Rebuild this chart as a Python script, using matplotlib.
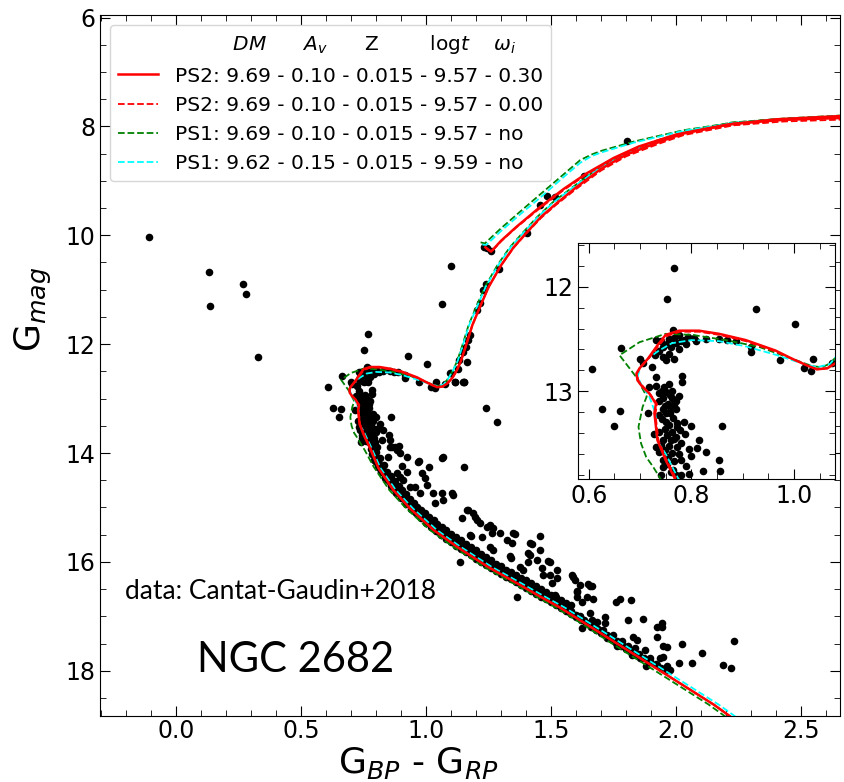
import numpy as np
import matplotlib.pyplot as plt
from matplotlib.lines import Line2D
from matplotlib.ticker import MultipleLocator

# ---------------- data: stars (G_BP - G_RP, G) ----------------
blue_stars = [(-0.11, 10.03), (0.131, 10.68), (0.137, 11.30), (0.268, 10.90),
              (0.279, 11.08), (0.329, 12.23)]

giants = [(1.099, 10.56), (1.064, 11.27), (1.232, 10.21), (1.243, 10.24), (1.26, 10.28),
          (1.293, 10.62), (1.239, 10.89), (1.229, 11.01), (1.216, 11.25), (1.203, 11.38),
          (1.177, 11.83), (1.169, 11.93), (1.16, 12.05), (1.147, 12.14), (1.133, 12.30),
          (1.164, 12.32), (1.127, 12.45), (1.149, 12.69), (1.099, 12.53), (1.116, 12.69),
          (1.152, 12.70), (1.403, 9.96), (1.456, 9.45), (1.485, 9.28), (1.516, 9.30),
          (1.803, 8.27), (1.633, 8.91), (1.239, 13.17), (1.285, 13.43)]

turnoff = [(0.767, 11.82), (0.752, 12.115), (0.927, 12.21), (1.003, 12.36), (0.764, 12.415),
           (0.662, 12.59), (0.606, 12.79), (0.626, 13.17), (0.660, 13.19), (0.650, 13.33),
           (0.859, 13.33), (0.782, 12.85), (0.782, 12.91), (0.715, 13.21), (0.700, 12.69),
           (0.705, 12.73), (1.038, 12.69), (1.020, 12.78), (1.034, 12.81), (1.075, 12.73),
           (0.973, 12.70), (0.916, 12.62), (0.916, 12.575), (0.887, 12.52), (0.870, 12.505),
           (0.854, 12.50), (0.793, 12.48), (0.776, 12.46), (0.767, 12.49), (0.757, 12.50),
           (0.786, 12.505), (0.737, 12.61), (0.730, 12.655), (0.744, 12.67), (0.757, 12.64),
           (0.767, 12.69), (0.750, 12.70), (0.770, 12.54), (0.718, 12.96), (0.732, 12.95),
           (0.747, 12.96), (0.750, 13.01), (0.758, 13.04), (0.745, 13.06), (0.763, 13.06),
           (0.737, 13.09), (0.754, 13.12), (0.767, 13.125), (0.771, 13.17), (0.744, 13.17),
           (0.758, 13.21), (0.737, 13.23), (0.765, 13.26), (0.750, 13.29), (0.786, 13.29),
           (0.799, 13.33), (0.773, 13.34), (0.737, 13.39), (0.763, 13.39), (0.744, 13.47),
           (0.770, 13.44), (0.788, 13.41), (0.815, 13.47), (0.757, 13.52), (0.773, 13.53),
           (0.812, 13.54), (0.737, 13.58), (0.754, 13.63), (0.767, 13.67), (0.828, 13.58),
           (0.822, 13.76), (0.853, 13.66), (0.856, 13.76), (0.744, 13.73), (0.760, 13.77),
           (0.771, 13.80), (0.784, 13.87), (0.802, 13.88), (0.862, 13.89), (0.875, 13.885),
           (0.890, 13.875), (0.731, 12.86), (0.724, 12.77), (0.737, 13.02), (0.728, 13.41),
           (0.732, 13.53), (0.760, 13.47), (0.750, 13.21), (0.776, 13.05), (0.757, 12.93),
           (0.731, 12.51), (0.828, 12.50), (1.096, 12.53), (1.152, 12.70), (1.116, 12.70),
           (0.742, 13.00), (0.762, 13.00), (0.770, 13.09), (0.748, 13.14), (0.760, 13.16),
           (0.742, 13.27), (0.756, 13.32), (0.772, 13.30), (0.748, 13.36), (0.778, 13.37),
           (0.752, 13.42), (0.766, 13.46), (0.740, 13.51), (0.780, 13.50), (0.748, 13.56),
           (0.762, 13.59), (0.776, 13.60), (0.745, 13.66), (0.780, 13.66), (0.752, 13.70),
           (0.790, 13.72), (0.764, 13.75), (0.780, 13.80), (0.796, 13.79), (0.740, 13.80),
           (0.800, 13.62), (0.795, 13.55), (0.740, 12.52), (0.752, 12.55), (0.760, 12.58),
           (0.745, 12.58), (0.775, 12.60), (0.780, 12.52), (0.790, 12.55), (0.805, 12.49),
           (0.810, 12.52)]

ms_band = [(0.778, 13.92), (0.790, 13.95), (0.785, 14.02), (0.798, 14.08), (0.792, 14.12),
           (0.805, 14.15), (0.812, 14.20), (0.808, 14.25), (0.822, 14.28), (0.818, 14.33),
           (0.830, 14.36), (0.838, 14.40), (0.835, 14.45), (0.848, 14.48), (0.852, 14.52),
           (0.858, 14.57), (0.866, 14.60), (0.870, 14.64), (0.880, 14.68), (0.888, 14.73),
           (0.895, 14.76), (0.902, 14.80), (0.912, 14.84), (0.918, 14.89), (0.928, 14.92),
           (0.935, 14.96), (0.945, 15.00), (0.952, 15.05), (0.962, 15.08), (0.970, 15.12),
           (0.982, 15.15), (0.990, 15.20), (1.002, 15.23), (1.012, 15.28), (1.025, 15.31),
           (1.035, 15.36), (1.048, 15.40), (1.058, 15.45), (1.070, 15.48), (1.082, 15.53),
           (1.095, 15.57), (1.105, 15.61), (1.118, 15.64), (1.130, 15.69), (1.142, 15.72),
           (1.155, 15.77), (1.168, 15.80), (1.180, 15.85), (1.192, 15.88), (1.205, 15.92),
           (1.218, 15.95), (1.230, 16.00), (1.245, 16.03), (1.258, 16.07), (1.272, 16.10),
           (1.285, 16.15), (1.300, 16.18), (1.315, 16.22), (1.330, 16.26), (1.345, 16.30),
           (1.360, 16.33), (1.375, 16.38), (1.392, 16.42), (1.408, 16.46), (1.425, 16.50),
           (1.440, 16.55), (1.458, 16.59), (1.475, 16.64), (1.492, 16.68), (1.510, 16.72),
           (1.528, 16.77), (1.545, 16.82), (1.562, 16.86), (1.580, 16.91), (1.598, 16.97),
           (1.615, 17.02), (1.632, 17.07), (1.650, 17.12), (1.668, 17.18), (1.688, 17.23),
           (1.705, 17.28), (1.725, 17.34), (1.745, 17.40), (1.765, 17.45), (1.785, 17.51),
           (1.805, 17.57), (1.828, 17.63), (1.850, 17.69), (1.872, 17.76), (1.895, 17.82),
           (1.918, 17.88), (1.940, 17.94), (1.962, 17.99),
           (0.800, 13.98), (0.815, 14.10), (0.830, 14.22), (0.845, 14.34), (0.860, 14.42),
           (0.875, 14.52), (0.890, 14.60), (0.905, 14.68), (0.920, 14.76), (0.935, 14.84),
           (0.950, 14.92), (0.965, 14.99), (0.980, 15.05), (0.995, 15.11), (1.010, 15.17),
           (1.030, 15.23), (1.045, 15.30), (1.065, 15.36), (1.080, 15.42), (1.100, 15.48),
           (1.120, 15.55), (1.140, 15.60), (1.160, 15.67), (1.180, 15.73), (1.200, 15.79),
           (1.220, 15.85), (1.240, 15.91), (1.260, 15.97), (1.280, 16.03), (1.300, 16.08),
           (1.320, 16.14), (1.340, 16.19), (1.360, 16.24), (1.380, 16.29), (1.400, 16.34),
           (1.420, 16.39), (1.440, 16.44), (1.460, 16.50), (1.480, 16.55), (1.500, 16.60),
           (1.520, 16.65), (1.540, 16.70), (1.560, 16.75), (1.580, 16.80),
           (0.800, 14.16), (0.820, 14.34), (0.840, 14.47), (0.860, 14.61), (0.880, 14.73),
           (0.900, 14.83), (0.920, 14.93), (0.940, 15.03), (0.960, 15.11), (0.980, 15.19),
           (1.000, 15.28), (1.020, 15.36), (1.040, 15.44), (1.060, 15.50), (1.080, 15.57),
           (1.100, 15.63), (1.120, 15.70), (1.140, 15.76), (1.160, 15.82), (1.180, 15.88),
           (1.200, 15.94), (1.220, 16.00), (1.240, 16.06), (1.260, 16.11), (1.280, 16.17),
           (1.300, 16.22), (1.320, 16.27), (1.340, 16.32), (1.360, 16.37), (1.380, 16.42),
           (1.400, 16.48), (1.420, 16.53), (1.440, 16.58), (1.460, 16.64), (1.480, 16.69),
           (1.500, 16.74), (1.520, 16.79), (1.540, 16.84), (1.560, 16.90), (1.580, 16.96),
           (1.600, 17.02), (1.620, 17.07), (1.640, 17.13), (1.660, 17.19), (1.680, 17.25),
           (1.700, 17.30), (1.720, 17.36), (1.740, 17.42), (1.760, 17.48), (1.780, 17.54),
           (1.800, 17.60), (1.820, 17.65), (1.840, 17.71), (1.860, 17.77)]

ms_scatter = [(0.923, 14.07), (0.969, 14.16), (1.067, 14.08), (1.152, 14.25), (0.856, 13.88),
              (0.883, 13.94), (0.896, 14.00), (0.849, 14.07), (0.836, 14.34), (0.883, 14.37),
              (0.923, 14.34), (0.983, 14.37), (0.996, 14.46), (1.003, 14.59), (0.956, 14.62),
              (0.909, 14.50), (0.936, 14.62), (0.976, 14.74), (1.029, 14.74), (1.063, 14.74),
              (1.103, 14.74), (1.036, 14.92), (1.069, 14.86), (1.107, 14.77), (1.163, 15.05),
              (1.189, 15.11), (1.196, 15.17), (1.143, 15.20), (1.216, 15.29), (1.243, 15.35),
              (1.263, 15.47), (1.296, 15.47), (1.349, 15.47), (1.223, 15.54), (1.176, 15.51),
              (1.323, 15.60), (1.416, 15.66), (1.456, 15.78), (1.409, 15.84), (1.336, 15.90),
              (1.376, 16.09), (1.443, 15.96), (1.489, 15.99), (1.523, 16.15), (1.589, 16.27),
              (1.616, 16.42), (1.643, 16.64), (1.496, 16.24), (1.167, 15.04), (1.203, 15.23),
              (1.256, 15.32), (1.269, 15.38), (1.343, 15.66), (1.356, 15.49), (1.456, 15.52),
              (1.180, 15.52), (1.256, 15.72), (1.269, 15.78), (1.423, 15.67), (1.416, 15.87),
              (1.340, 15.92), (1.216, 15.87), (1.387, 16.15), (1.409, 16.01), (1.463, 16.12),
              (1.496, 16.00), (1.469, 16.24), (1.523, 16.30), (1.503, 16.39), (1.583, 16.24),
              (1.596, 16.33), (1.656, 16.45), (1.603, 16.55), (1.603, 16.64), (1.516, 16.61),
              (1.365, 16.64), (1.136, 16.01), (1.649, 16.41), (1.663, 16.45), (1.605, 16.53),
              (1.625, 16.73), (1.669, 16.68), (1.760, 16.73), (1.776, 16.68), (1.819, 16.70),
              (1.065, 14.09), (0.973, 14.15), (1.012, 14.26), (0.903, 14.24), (0.896, 14.44),
              (1.536, 16.76), (1.563, 16.87), (1.596, 16.97), (1.616, 17.00), (1.629, 17.06),
              (1.623, 17.22), (1.656, 16.94), (1.663, 17.06), (1.683, 17.10), (1.709, 17.25),
              (1.716, 17.12), (1.717, 17.02), (1.669, 17.17), (1.689, 17.25), (1.723, 17.40),
              (1.749, 17.34), (1.763, 17.55), (1.783, 17.46), (1.809, 17.55), (1.823, 17.71),
              (1.836, 17.58), (1.829, 17.37), (1.843, 17.43), (1.856, 17.77), (1.876, 17.61),
              (1.880, 17.92), (1.896, 17.77), (1.923, 17.89), (1.936, 17.77), (1.949, 17.74),
              (1.963, 17.92), (1.976, 17.98), (1.923, 17.37), (1.943, 17.19), (1.923, 17.19),
              (1.943, 17.12), (1.809, 17.06), (1.869, 17.05), (1.949, 17.54), (1.963, 17.57),
              (2.023, 17.50), (2.013, 17.85), (2.063, 17.86), (2.103, 17.68), (2.189, 17.89),
              (2.219, 17.95), (2.232, 17.46)]

# ---------------- data: isochrones ----------------
ps2_rot_x = [2.25, 2.15, 2.05, 1.95, 1.85, 1.75, 1.65, 1.536, 1.45, 1.363, 1.247, 1.123, 1.029,
             0.936, 0.869, 0.81, 0.773, 0.750, 0.734, 0.728, 0.731, 0.718, 0.705, 0.695, 0.693,
             0.699, 0.715, 0.734, 0.750, 0.776, 0.815, 0.854, 0.906, 0.964, 0.997, 1.029, 1.045,
             1.065, 1.085, 1.105, 1.123, 1.14, 1.16, 1.185, 1.215, 1.25, 1.30, 1.35, 1.40, 1.46,
             1.52, 1.60, 1.70, 1.80, 1.93, 2.03, 2.23, 2.43, 2.70]
ps2_rot_y = [18.95, 18.62, 18.33, 18.04, 17.75, 17.46, 17.17, 16.84, 16.62, 16.39, 16.09, 15.72,
             15.41, 15.02, 14.68, 14.28, 13.885, 13.66, 13.47, 13.21, 13.12, 13.02, 12.96, 12.895,
             12.83, 12.78, 12.69, 12.56, 12.46, 12.42, 12.42, 12.45, 12.51, 12.61, 12.69, 12.76,
             12.79, 12.78, 12.72, 12.62, 12.48, 12.30, 12.02, 11.65, 11.32, 10.95, 10.55, 10.22,
             9.96, 9.66, 9.42, 9.12, 8.78, 8.52, 8.29, 8.13, 7.95, 7.88, 7.84]
ps2_rot_agb_x = [1.237, 1.26, 1.30, 1.36, 1.456, 1.55, 1.643, 1.75, 1.85, 2.0, 2.2, 2.4, 2.7]
ps2_rot_agb_y = [10.22, 10.30, 10.10, 9.85, 9.48, 9.15, 8.86, 8.58, 8.37, 8.15, 7.97, 7.87, 7.80]

ps2_norot_x = [2.25, 2.15, 2.05, 1.95, 1.85, 1.75, 1.65, 1.536, 1.45, 1.363, 1.247, 1.123, 1.029,
               0.936, 0.869, 0.81, 0.776, 0.752, 0.736, 0.730, 0.733, 0.720, 0.707, 0.697, 0.694,
               0.701, 0.718, 0.737, 0.753, 0.778, 0.815, 0.854, 0.906, 0.964, 0.997, 1.029, 1.045,
               1.065, 1.085, 1.105, 1.123, 1.14, 1.16, 1.185, 1.215, 1.25, 1.30, 1.35, 1.40, 1.46,
               1.52, 1.60, 1.70, 1.80, 1.93, 2.03, 2.23, 2.43, 2.70]
ps2_norot_y = [18.95, 18.62, 18.33, 18.04, 17.75, 17.46, 17.17, 16.84, 16.62, 16.39, 16.09, 15.72,
               15.41, 15.02, 14.68, 14.28, 13.89, 13.66, 13.47, 13.22, 13.12, 13.03, 12.96, 12.90,
               12.83, 12.77, 12.68, 12.56, 12.47, 12.43, 12.43, 12.46, 12.52, 12.62, 12.69, 12.76,
               12.79, 12.78, 12.72, 12.62, 12.48, 12.30, 12.02, 11.65, 11.32, 10.95, 10.55, 10.23,
               9.97, 9.68, 9.44, 9.15, 8.81, 8.55, 8.32, 8.16, 7.98, 7.91, 7.87]
ps2_norot_agb_x = [1.237, 1.26, 1.30, 1.36, 1.456, 1.55, 1.643, 1.75, 1.85, 2.0, 2.2, 2.4, 2.7]
ps2_norot_agb_y = [10.23, 10.31, 10.11, 9.86, 9.50, 9.17, 8.88, 8.60, 8.39, 8.17, 7.99, 7.89, 7.82]

ps1_a_x = [2.23, 2.13, 2.03, 1.93, 1.83, 1.73, 1.635, 1.52, 1.435, 1.348, 1.232, 1.108, 1.014,
           0.921, 0.853, 0.79, 0.755, 0.744, 0.725, 0.712, 0.702, 0.699, 0.697, 0.705, 0.713,
           0.692, 0.66, 0.699, 0.75, 0.802, 0.867, 0.932, 0.997, 1.036, 1.055, 1.072, 1.09, 1.108,
           1.125, 1.145, 1.170, 1.200, 1.235, 1.285, 1.335, 1.385, 1.445, 1.505, 1.585, 1.685,
           1.785, 1.915, 2.02, 2.22, 2.42, 2.70]
ps1_a_y = [18.95, 18.62, 18.33, 18.04, 17.75, 17.46, 17.17, 16.84, 16.62, 16.39, 16.09, 15.72,
           15.41, 15.02, 14.68, 14.25, 13.95, 13.87, 13.72, 13.63, 13.50, 13.41, 13.34, 13.15, 13.05,
           12.86, 12.655, 12.53, 12.45, 12.46, 12.51, 12.575, 12.69, 12.76, 12.77, 12.73, 12.62,
           12.48, 12.30, 12.02, 11.65, 11.32, 10.95, 10.55, 10.22, 9.96, 9.66, 9.40, 9.12, 8.78,
           8.52, 8.27, 8.12, 7.93, 7.86, 7.81]
ps1_a_agb_x = [1.218, 1.235, 1.30, 1.38, 1.456, 1.54, 1.616, 1.66, 1.70, 1.829, 2.03, 2.23, 2.45, 2.70]
ps1_a_agb_y = [10.13, 10.15, 9.87, 9.55, 9.25, 8.92, 8.62, 8.52, 8.45, 8.28, 8.07, 7.93, 7.85, 7.79]

ps1_b_x = [2.27, 2.17, 2.07, 1.97, 1.87, 1.77, 1.67, 1.555, 1.468, 1.38, 1.262, 1.137, 1.042,
           0.948, 0.879, 0.818, 0.778, 0.75, 0.733, 0.73, 0.718, 0.705, 0.695, 0.701, 0.717, 0.737,
           0.762, 0.80, 0.854, 0.906, 0.964, 1.02, 1.045, 1.07, 1.09, 1.108, 1.127, 1.147, 1.172,
           1.203, 1.238, 1.288, 1.338, 1.388, 1.448, 1.508, 1.588, 1.688, 1.79, 1.92, 2.02, 2.22,
           2.42, 2.70]
ps1_b_y = [18.95, 18.62, 18.33, 18.04, 17.75, 17.46, 17.17, 16.84, 16.62, 16.39, 16.09, 15.72,
           15.41, 15.02, 14.68, 14.28, 13.87, 13.60, 13.47, 13.21, 13.05, 12.96, 12.86, 12.77,
           12.68, 12.61, 12.54, 12.51, 12.52, 12.57, 12.65, 12.74, 12.77, 12.74, 12.62, 12.48,
           12.30, 12.02, 11.65, 11.32, 10.95, 10.55, 10.22, 9.96, 9.66, 9.40, 9.12, 8.78, 8.52,
           8.27, 8.12, 7.94, 7.87, 7.82]
ps1_b_agb_x = [1.225, 1.24, 1.30, 1.38, 1.456, 1.54, 1.616, 1.66, 1.70, 1.829, 2.03, 2.23, 2.45, 2.70]
ps1_b_agb_y = [10.17, 10.18, 9.92, 9.60, 9.31, 8.97, 8.67, 8.55, 8.48, 8.30, 8.08, 7.94, 7.86, 7.80]

labels = ['PS2: 9.69 - 0.10 - 0.015 - 9.57 - 0.30',
          'PS2: 9.69 - 0.10 - 0.015 - 9.57 - 0.00',
          'PS1: 9.69 - 0.10 - 0.015 - 9.57 - no',
          'PS1: 9.62 - 0.15 - 0.015 - 9.59 - no']
header = ('         $DM$      $A_v$      Z        log$t$    $\\omega_i$')

stars = np.array(blue_stars + giants + turnoff + ms_band + ms_scatter)

# ---------------- figure ----------------
fig = plt.figure(figsize=(8.44, 7.82), dpi=100)
ax = fig.add_axes([0.1185, 0.0844, 0.877, 0.896])
axin = fig.add_axes([0.6848, 0.3875, 0.3045, 0.3018])

tracks = [
    (ps2_rot_x, ps2_rot_y, ps2_rot_agb_x, ps2_rot_agb_y, 'red', '-', 1.8, 6),
    (ps2_norot_x, ps2_norot_y, ps2_norot_agb_x, ps2_norot_agb_y, 'red', '--', 1.3, 5),
    (ps1_a_x, ps1_a_y, ps1_a_agb_x, ps1_a_agb_y, 'green', '--', 1.3, 3),
    (ps1_b_x, ps1_b_y, ps1_b_agb_x, ps1_b_agb_y, 'cyan', '--', 1.3, 4),
]

for a in (ax, axin):
    a.scatter(stars[:, 0], stars[:, 1], s=30, color='black', linewidths=0, zorder=2)
    for tx, ty, gx, gy, c, ls, lw, z in tracks:
        a.plot(tx, ty, color=c, ls=ls, lw=lw, zorder=z)
        a.plot(gx, gy, color=c, ls=ls, lw=lw, zorder=z)
    a.tick_params(which='both', direction='in', top=True, right=True, labelsize=17)
    a.tick_params(which='major', length=7)
    a.tick_params(which='minor', length=4)
ax.tick_params(axis='x', which='both', pad=2)

ax.set_xlim(-0.304, 2.656)
ax.set_ylim(18.83, 5.96)
ax.xaxis.set_major_locator(MultipleLocator(0.5))
ax.xaxis.set_minor_locator(MultipleLocator(0.1))
ax.yaxis.set_major_locator(MultipleLocator(2))
ax.yaxis.set_minor_locator(MultipleLocator(0.5))
ax.set_xlabel('G$_{BP}$ - G$_{RP}$', fontsize=26)
ax.set_ylabel('G$_{mag}$', fontsize=26)
ax.xaxis.set_label_coords(0.43, -0.042)
ax.yaxis.set_label_coords(-0.062, 0.58)

axin.set_xlim(0.579, 1.08)
axin.set_ylim(13.84, 11.58)
axin.xaxis.set_major_locator(MultipleLocator(0.2))
axin.xaxis.set_minor_locator(MultipleLocator(0.05))
axin.yaxis.set_major_locator(MultipleLocator(1))
axin.yaxis.set_minor_locator(MultipleLocator(0.2))

handles = [Line2D([], [], color='none'),
           Line2D([], [], color='red', ls='-', lw=1.8),
           Line2D([], [], color='red', ls='--', lw=1.3),
           Line2D([], [], color='green', ls='--', lw=1.3),
           Line2D([], [], color='cyan', ls='--', lw=1.3)]
ax.legend(handles, [header] + labels, loc='upper left', fontsize=14.5,
          handlelength=2.0, labelspacing=0.5)

ax.text(-0.204, 16.55, 'data: Cantat-Gaudin+2018', fontsize=19, family='Lato',
        ha='left', va='center')
ax.text(0.084, 17.80, 'NGC 2682', fontsize=30, family='Lato', ha='left', va='center')

fig.savefig('out.png', dpi=100)
